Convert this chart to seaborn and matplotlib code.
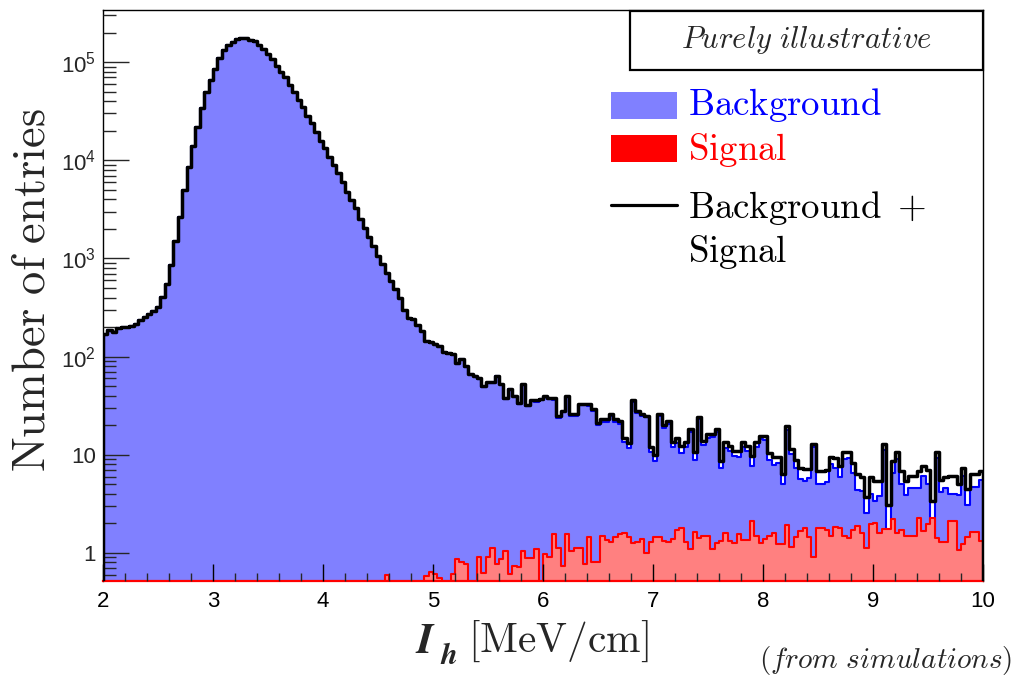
import numpy as np
import pandas as pd
import matplotlib
matplotlib.use("Agg")
import matplotlib.pyplot as plt
import seaborn as sns
from matplotlib.patches import Rectangle
from matplotlib.lines import Line2D
from matplotlib.ticker import MultipleLocator, LogLocator, FuncFormatter, NullFormatter

# Binning of the ionisation estimator I_h (MeV/cm): 200 bins between 2 and 10
x_min, x_max, n_bins = 2.0, 10.0, 200
edges = np.linspace(x_min, x_max, n_bins + 1)
centers = 0.5 * (edges[:-1] + edges[1:])

# Entries per bin, background sample
background = [
    170, 189, 180, 195, 200, 200, 204, 213, 234, 255,
    275, 295, 317, 403, 550, 850, 1500, 2640, 5000, 8500,
    14000, 22000, 34000, 50000, 66000, 85000, 110000, 132000, 148000, 160000,
    172000, 176000, 176000, 168000, 164000, 150000, 135000, 120000, 107000, 92000,
    80000, 71000, 58000, 49500, 41000, 35000, 28500, 24000, 19300, 15800,
    13200, 10800, 8900, 7400, 5950, 4800, 3900, 3240, 2540, 2040,
    1660, 1350, 1070, 870, 719, 590, 490, 400, 300, 245,
    240, 208, 184, 144.4, 139.4, 134.4, 127.4, 112, 110, 106.4,
    86.1, 94.2, 79.2, 67, 64, 59.1, 49.4, 54.1, 53.9, 63.2,
    52.1, 37.0, 46.4, 39.3, 33.3, 52.0, 31.1, 35.1, 34.9, 37,
    39.0, 37.1, 36.5, 23.9, 27.3, 38.5, 25.0, 24.9, 31.9, 32.2,
    31.5, 28.2, 20.2, 21.5, 21.7, 24.7, 21.6, 20.5, 13.4, 11.6,
    34.8, 26.7, 24.6, 24.0, 10.7, 8.6, 24.6, 18.7, 20.7, 12.0,
    13.3, 10.5, 12.1, 17.2, 8.95, 23.0, 12.5, 14.7, 15.1, 17.05,
    7.37, 11.8, 10.97, 9.75, 9.45, 12.05, 10.95, 7.68, 11.92, 14.35,
    14.22, 8.9, 7.8, 8.18, 5.08, 17.87, 10.25, 7.35, 5.62, 5.4,
    5.75, 12.09, 5.1, 5.0, 5.28, 8.12, 7.35, 5.9, 9.1, 9.18,
    6.58, 4.42, 4.3, 2.58, 3.95, 3.4, 3.8, 11.15, 1.35, 6.5,
    9.0, 5.08, 3.9, 4.62, 4.6, 4.54, 6.02, 5.05, 1.14, 9.18,
    4.2, 4.6, 3.98, 3.98, 3.94, 6.08, 3.05, 4.65, 4.65, 5.57,
]

# Entries per bin, signal sample
signal = [
    0, 0, 0, 0, 0, 0, 0, 0, 0, 0,
    0, 0, 0, 0, 0, 0, 0, 0, 0, 0,
    0, 0, 0, 0, 0, 0, 0, 0, 0, 0,
    0, 0, 0, 0, 0, 0, 0, 0, 0, 0,
    0, 0, 0, 0, 0, 0, 0, 0, 0, 0,
    0, 0, 0, 0, 0, 0, 0, 0, 0, 0,
    0, 0, 0, 0, 0.6, 0, 0, 0, 0, 0,
    0, 0, 0, 0.58, 0.64, 0.61, 0.56, 0, 0, 0.61,
    0.86, 0.80, 0.77, 0, 0, 0.9, 0.62, 0.9, 1.13, 0.77,
    0.86, 1.05, 0.61, 0.74, 0.72, 1.05, 0.88, 0.88, 1.09, 0,
    0.98, 0.9, 1.55, 1.13, 0.73, 1.55, 1.05, 1.13, 1.13, 0.77,
    1.46, 0.8, 0.8, 1.5, 1.35, 1.3, 1.45, 1.55, 1.6, 1.45,
    1.25, 1.3, 1.38, 1.0, 1.3, 1.45, 1.45, 1.33, 1.3, 1.38,
    1.7, 1.8, 1.3, 1.09, 1.65, 1.42, 1.48, 1.48, 1.1, 1.25,
    1.33, 1.6, 1.33, 1.25, 1.55, 1.35, 1.35, 2.12, 1.48, 1.25,
    1.38, 1.5, 1.6, 1.22, 1.22, 1.93, 1.15, 1.45, 1.68, 1.8,
    1.45, 0.91, 1.8, 1.8, 1.72, 1.48, 1.85, 1.8, 1.5, 1.42,
    1.72, 1.88, 1.6, 1.12, 1.95, 2.0, 1.6, 1.75, 1.75, 2.2,
    1.6, 1.72, 1.5, 1.48, 1.5, 2.26, 1.68, 1.95, 2.26, 1.42,
    1.3, 1.3, 2.12, 2.12, 1.06, 1.22, 1.45, 1.65, 1.65, 1.33,
]

y_ticks_exp = [0, 1, 2, 3, 4, 5]
x_tick_values = [2, 3, 4, 5, 6, 7, 8, 9, 10]

df = pd.DataFrame({"ih": centers, "background": background, "signal": signal})
df["total"] = df["background"] + df["signal"]

sns.set_style("ticks")
plt.rcParams["mathtext.fontset"] = "cm"
plt.rcParams["font.family"] = ["Liberation Sans", "DejaVu Sans"]

W, H = 1017, 678
fig = plt.figure(figsize=(W / 100, H / 100), dpi=100)
ax = fig.add_axes([103 / W, 97 / H, 880 / W, 571 / H])


def fx(px):
    return px / W


def fy(py):
    return 1 - py / H


hist_kws = dict(x="ih", bins=edges.tolist(), element="step", fill=True, stat="count", ax=ax)
sns.histplot(data=df, weights="background", color="#0000ff", facecolor="#8080ff",
             edgecolor="#0000ff", linewidth=1.5, zorder=1, **hist_kws)
sns.histplot(data=df, weights="signal", color="#ff0000", facecolor="#ff8080",
             edgecolor="#ff0000", linewidth=1.5, zorder=2, **hist_kws)
sns.histplot(data=df, weights="total", color="black", facecolor="none",
             edgecolor="black", linewidth=2.5, zorder=3, **hist_kws)

ax.set_yscale("log")
ax.set_xlim(x_min, x_max)
ax.set_ylim(0.518, 3.4e5)
ax.set_xlabel("")
ax.set_ylabel("")
ax.set_axisbelow(False)


def log_label(v, pos):
    e = int(round(np.log10(v)))
    if e == 0:
        return "1"
    if e == 1:
        return "10"
    return r"$\mathregular{10^{%d}}$" % e


ax.set_xticks(x_tick_values)
ax.set_xticklabels([str(v) for v in x_tick_values])
ax.xaxis.set_minor_locator(MultipleLocator(0.2))
ax.set_yticks([10.0 ** e for e in y_ticks_exp])
ax.yaxis.set_major_formatter(FuncFormatter(log_label))
ax.yaxis.set_minor_locator(LogLocator(base=10, subs=np.arange(2, 10), numticks=20))
ax.yaxis.set_minor_formatter(NullFormatter())

ax.tick_params(axis="x", which="major", direction="in", length=12.2, width=1,
               top=False, labelsize=16, pad=7, colors="black")
ax.tick_params(axis="x", which="minor", direction="in", length=6.1, width=1, top=False)
ax.tick_params(axis="y", which="major", direction="in", length=18.7, width=1,
               right=False, labelsize=16, pad=5)
ax.tick_params(axis="y", which="minor", direction="in", length=9.4, width=1, right=False)

for side in ["left", "right", "top"]:
    ax.spines[side].set_color("black")
    ax.spines[side].set_linewidth(1.0)
ax.spines["bottom"].set_color("#ff0000")
ax.spines["bottom"].set_linewidth(1.6)

# Axis titles
fig.text(fx(33), fy(290), r"$\mathrm{Number\ of\ entries}$", rotation=90,
         ha="center", va="center", fontsize=33.5)
fig.text(fx(416), fy(653), "I", family="STIXGeneral", weight="bold", style="italic",
         ha="left", va="baseline", fontsize=31)
fig.text(fx(440), fy(664), "h", family="STIXGeneral", weight="bold", style="italic",
         ha="left", va="baseline", fontsize=22)
fig.text(fx(468), fy(652), r"$\mathrm{[MeV/cm]}$", ha="left", va="baseline", fontsize=29.8)
fig.text(fx(1012), fy(668), r"$(\mathit{from\ simulations})$", ha="right",
         va="baseline", fontsize=21)

# Caption box
fig.add_artist(Rectangle((fx(630), fy(70)), (983 - 630) / W, (70 - 11) / H,
                         transform=fig.transFigure, facecolor="white",
                         edgecolor="black", linewidth=1.6, zorder=5))
fig.text(fx(807), fy(48), r"$\mathit{Purely\ illustrative}$", ha="center",
         va="baseline", fontsize=22, zorder=6)

# Legend
fig.add_artist(Rectangle((fx(611), fy(119)), 66 / W, 27 / H, transform=fig.transFigure,
                         facecolor="#8080ff", edgecolor="none", zorder=5))
fig.add_artist(Rectangle((fx(611), fy(162)), 66 / W, 27 / H, transform=fig.transFigure,
                         facecolor="#ff0000", edgecolor="none", zorder=5))
fig.add_artist(Line2D([fx(611), fx(677)], [fy(205), fy(205)], transform=fig.transFigure,
                      color="black", linewidth=2.3, zorder=5))
fig.text(fx(688), fy(115), r"$\mathrm{Background}$", color="#0000ff", fontsize=26.5,
         ha="left", va="baseline")
fig.text(fx(688), fy(160), r"$\mathrm{Signal}$", color="#ff0000", fontsize=26.5,
         ha="left", va="baseline")
fig.text(fx(688), fy(218), r"$\mathrm{Background\ +}$", color="black", fontsize=26.5,
         ha="left", va="baseline")
fig.text(fx(688), fy(262), r"$\mathrm{Signal}$", color="black", fontsize=26.5,
         ha="left", va="baseline")

fig.savefig("out.png", dpi=100)
